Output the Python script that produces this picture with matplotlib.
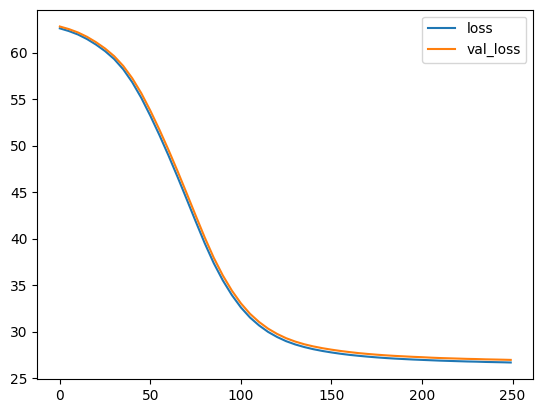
import matplotlib
matplotlib.use('Agg')
import matplotlib.pyplot as plt

epochs = list(range(0, 250, 5)) + [249]
loss = [
    62.60, 62.31, 61.94, 61.45, 60.85, 60.15, 59.30, 58.20, 56.80, 55.12,
    53.19, 51.12, 48.93, 46.63, 44.25, 41.85, 39.50, 37.35, 35.50, 33.92,
    32.59, 31.51, 30.66, 29.96, 29.41, 28.96, 28.61, 28.33, 28.10, 27.91,
    27.75, 27.61, 27.49, 27.39, 27.30, 27.22, 27.15, 27.09, 27.04, 26.99,
    26.95, 26.91, 26.87, 26.84, 26.81, 26.78, 26.76, 26.73, 26.71, 26.69,
    26.67
]
val_loss = [
    62.80, 62.52, 62.16, 61.69, 61.11, 60.43, 59.61, 58.56, 57.23, 55.62,
    53.74, 51.70, 49.53, 47.25, 44.88, 42.48, 40.12, 37.93, 36.03, 34.40,
    33.03, 31.91, 31.03, 30.31, 29.74, 29.28, 28.92, 28.63, 28.40, 28.21,
    28.05, 27.91, 27.79, 27.68, 27.59, 27.51, 27.44, 27.38, 27.33, 27.28,
    27.24, 27.19, 27.15, 27.12, 27.09, 27.06, 27.04, 27.01, 26.99, 26.97,
    26.95
]

fig = plt.figure(figsize=(5.43, 4.13), dpi=100)
ax = fig.add_axes([0.0687, 0.0816, 0.9134, 0.8949])
ax.plot(epochs, loss, label='loss')
ax.plot(epochs, val_loss, label='val_loss')
ax.legend()
fig.savefig('out.png', dpi=100)
